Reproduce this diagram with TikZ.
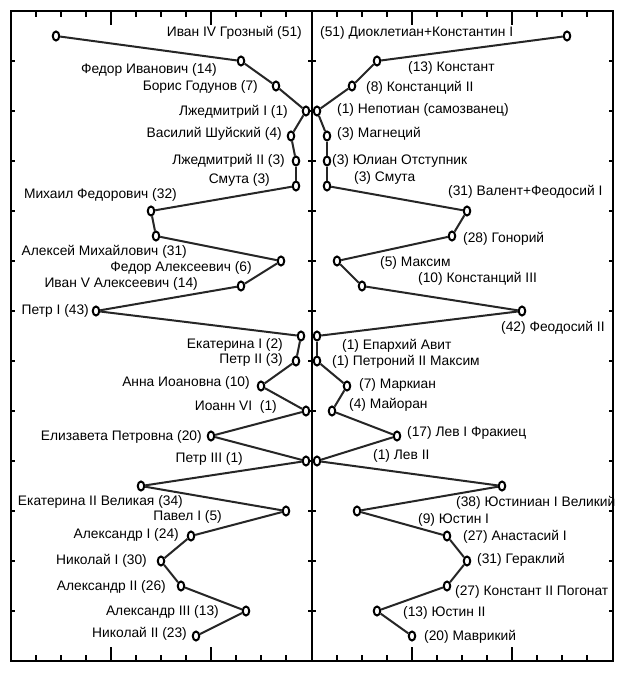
\documentclass[tikz,border=0pt]{standalone}
\usepackage{fontspec}
\setmainfont{Liberation Sans}
\usetikzlibrary{shapes.geometric}
\begin{document}
\begin{tikzpicture}[x=1pt,y=-1pt,
  frame/.style={line width=1.7pt,black},
  tickmark/.style={line width=1.4pt,black},
  link/.style={line width=2pt,black!85},
  pt/.style={shape=ellipse,draw=black,line width=2pt,fill=white,minimum width=6.5pt,minimum height=9pt,inner sep=0pt},
  lab/.style={inner sep=0pt,font=\fontsize{13.8}{16}\selectfont,text=black}]
\useasboundingbox[fill=white] (0,0) rectangle (622,674);
% frames
\draw[frame] (11,11) rectangle (613,661);
\draw[frame] (312,11) -- (312,661);
% x ticks
\foreach \i in {1,...,11} {
  \pgfmathsetmacro\len{(\i==4||\i==8)?14:6}
  \draw[tickmark] ({11+25*\i},11) -- ++(0,\len);
  \draw[tickmark] ({11+25*\i},661) -- ++(0,-\len);
  \draw[tickmark] ({312+25*\i},11) -- ++(0,\len);
  \draw[tickmark] ({312+25*\i},661) -- ++(0,-\len);
}
% y ticks
\foreach \j in {0,...,11} {
  \draw[tickmark] (11,{61+50*\j}) -- ++(4,0);
  \draw[tickmark] (308,{61+50*\j}) -- ++(8,0);
  \draw[tickmark] (613,{61+50*\j}) -- ++(-4,0);
}
% points
\foreach \yr [count=\k] in {51,14,7,1,4,3,3,32,31,6,14,43,2,3,10,1,20,1,34,5,24,30,26,13,23}
  \node[pt] (L\k) at ({311-5*\yr},{11+25*\k}) {};
\foreach \yr [count=\k] in {51,13,8,1,3,3,3,31,28,5,10,42,1,1,7,4,17,1,38,9,27,31,27,13,20}
  \node[pt] (R\k) at ({312+5*\yr},{11+25*\k}) {};
\foreach \k [evaluate=\k as \n using int(\k+1)] in {1,...,24} {
  \draw[link] (L\k) -- (L\n);
  \draw[link] (R\k) -- (R\n);
}
% left labels
\foreach \x/\y/\t [count=\k] in {
  302/33/Иван IV Грозный (51),
  217/70/Федор Иванович (14),
  258/87/Борис Годунов (7),
  288/112/Лжедмитрий I (1),
  282/134/Василий Шуйский (4),
  285/161/Лжедмитрий II (3),
  270/180/Смута (3),
  177/195/Михаил Федорович (32),
  187/252/Алексей Михайлович (31),
  252/268/Федор Алексеевич (6),
  198/284/Иван V Алексеевич (14),
  89/311/Петр I (43),
  283/345/Екатерина I (2),
  283/360/Петр II (3),
  250/383/Анна Иоановна (10),
  277/407/Иоанн VI~ (1),
  202/437/Елизавета Петровна (20),
  243/459/Петр III (1),
  183/502/Екатерина II Великая (34),
  222/517/Павел I (5),
  179/535/Александр I (24),
  147/561/Николай I (30),
  166/587/Александр II (26),
  219/612/Александр III (13),
  187/634/Николай II (23)}
  \node[lab,anchor=east] (tL\k) at (\x,\y) {\t};
% right labels
\foreach \x/\y/\t [count=\k] in {
  320/33/(51) Диоклетиан+Константин I,
  408/68/(13) Констант,
  366/88/(8) Констанций II,
  337/110/(1) Непотиан (самозванец),
  337/134/(3) Магнеций,
  332/161/(3) Юлиан Отступник,
  354/178/(3) Смута,
  448/192/(31) Валент+Феодосий I,
  463/239/(28) Гонорий,
  380/263/(5) Максим,
  418/279/(10) Констанций III,
  501/328/(42) Феодосий II,
  342/346/(1) Епархий Авит,
  332/362/(1) Петроний II Максим,
  359/385/(7) Маркиан,
  349/405/(4) Майоран,
  407/433/(17) Лев I Фракиец,
  373/456/(1) Лев II,
  456/503/(38) Юстиниан I Великий,
  418/520/(9) Юстин I,
  463/537/(27) Анастасий I,
  477/560/(31) Гераклий,
  455/592/(27) Констант II Погонат,
  403/613/(13) Юстин II,
  424/637/(20) Маврикий}
  \node[lab,anchor=west] (tR\k) at (\x,\y) {\t};
\end{tikzpicture}
\end{document}
